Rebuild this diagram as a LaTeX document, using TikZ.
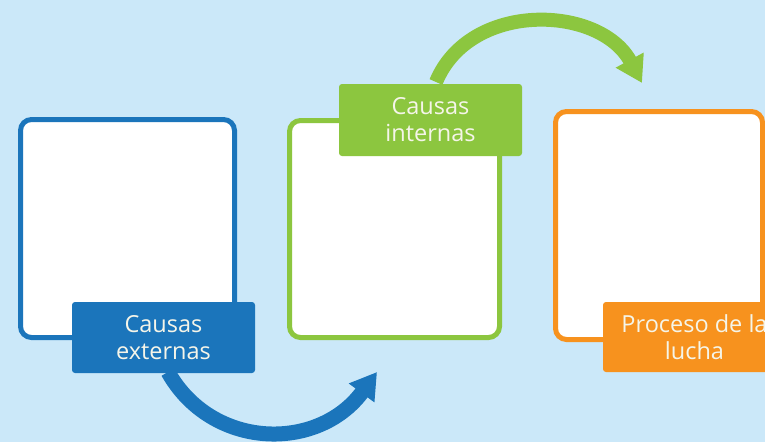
\documentclass[tikz,border=0pt]{standalone}
\usepackage{fontspec}
\setmainfont{Open Sans}
\usetikzlibrary{arrows.meta}
\definecolor{bg}{HTML}{CBE8F9}
\definecolor{cblue}{HTML}{1B75BB}
\definecolor{cgreen}{HTML}{8CC63F}
\definecolor{corange}{HTML}{F7921E}
\definecolor{ctext}{HTML}{F5F5E9}
\begin{document}
\begin{tikzpicture}[x=1pt,y=-1pt,
  box/.style={draw, line width=5pt, fill=white, rounded corners=11pt, inner sep=0pt},
  lbl/.style={rounded corners=3pt, text=ctext, font=\fontsize{23.5}{27}\selectfont, align=center,
    minimum width=183pt, inner sep=0pt},
  bigarrow/.style={line width=15pt, -{Triangle[length=26pt,width=30pt]}}]
\fill[bg] (0,0) rectangle (765,442);
\useasboundingbox (0,0) rectangle (765,442);
\clip (0,0) rectangle (765,442);
% arrows
\coordinate (bs) at (168,372);
\coordinate (be) at (377,372);
\coordinate (gs) at (436,82);
\coordinate (ge) at (642,83);
\draw[cblue, bigarrow] (bs) .. controls (212,450) and (318,452) .. (be);
\draw[cgreen, bigarrow, line width=14pt] (gs) .. controls (470,0) and (600,5) .. (ge);
% boxes
\node[box, draw=cblue, minimum width=214pt, minimum height=218pt] (b1) at (127.5,228.5) {};
\node[box, draw=cgreen, minimum width=210pt, minimum height=217pt] (b2) at (394.5,229) {};
\node[box, draw=corange, minimum width=207pt, minimum height=228pt] (b3) at (659,225.5) {};
% labels
\node[lbl, fill=cblue, minimum height=71pt] (l1) at (163.5,337.5) {Causas\\externas};
\node[lbl, fill=cgreen, minimum height=72pt] (l2) at (430.5,120) {Causas\\internas};
\node[lbl, fill=corange, minimum height=70pt] (l3) at (694.5,337) {Proceso de la\\lucha};
\end{tikzpicture}
\end{document}
